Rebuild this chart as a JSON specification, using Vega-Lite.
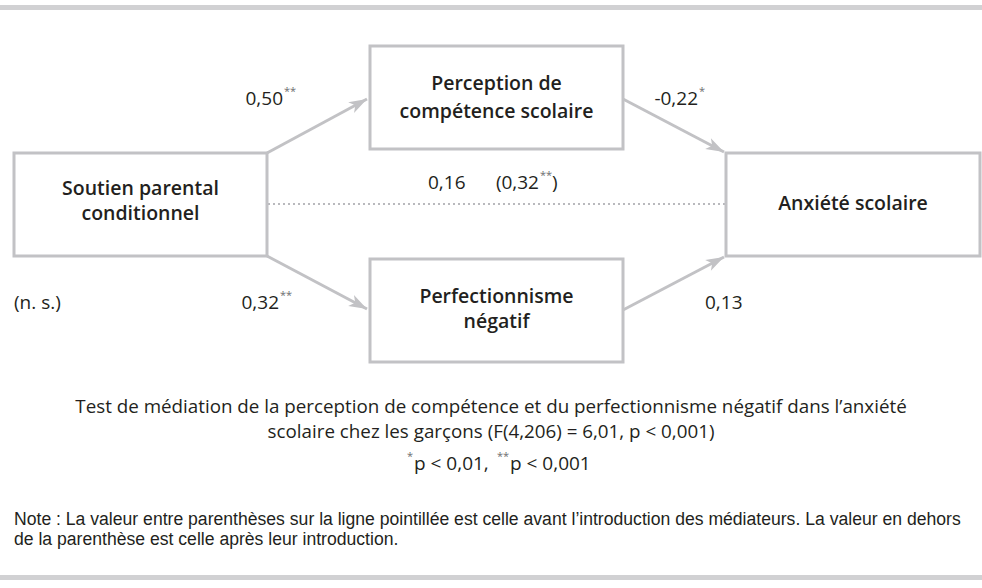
{
  "$schema": "https://vega.github.io/schema/vega-lite/v6.json",
  "width": 982,
  "height": 588,
  "autosize": {"type": "none"},
  "padding": 0,
  "background": "white",
  "config": {"view": {"stroke": null}},
  "datasets": {
    "bands": [
      {"x": 0, "x2": 982, "y": 5, "y2": 10},
      {"x": 0, "x2": 982, "y": 575, "y2": 580}
    ],
    "boxes": [
      {"node": "Soutien parental conditionnel", "x": 14, "x2": 267, "y": 153, "y2": 256},
      {"node": "Perception de compétence scolaire", "x": 370, "x2": 623, "y": 46, "y2": 149},
      {"node": "Anxiété scolaire", "x": 726, "x2": 980, "y": 153, "y2": 256},
      {"node": "Perfectionnisme négatif", "x": 370, "x2": 623, "y": 259, "y2": 362}
    ],
    "paths": [
      {"path": "a", "style": "solid", "x": 267, "y": 153, "x2": 367, "y2": 99, "heading": 61.6},
      {"path": "b", "style": "solid", "x": 623, "y": 99, "x2": 724, "y2": 152, "heading": 117.7},
      {"path": "a2", "style": "solid", "x": 267, "y": 256, "x2": 367, "y2": 309, "heading": 117.9},
      {"path": "b2", "style": "solid", "x": 623, "y": 310, "x2": 724, "y2": 257, "heading": 62.3},
      {"path": "c", "style": "dotted", "x": 268, "y": 204, "x2": 725, "y2": 204, "heading": 90}
    ],
    "texts": [
      {"role": "node", "x": 140.5, "y": 189, "text": "Soutien parental"},
      {"role": "node", "x": 140.5, "y": 214, "text": "conditionnel"},
      {"role": "node", "x": 496.5, "y": 84, "text": "Perception de"},
      {"role": "node", "x": 496.5, "y": 112, "text": "compétence scolaire"},
      {"role": "node", "x": 853, "y": 204, "text": "Anxiété scolaire"},
      {"role": "node", "x": 496.5, "y": 297, "text": "Perfectionnisme"},
      {"role": "node", "x": 496.5, "y": 322, "text": "négatif"},
      {"role": "coefR", "x": 283, "y": 99, "text": "0,50"},
      {"role": "sup", "x": 284, "y": 92, "text": "**"},
      {"role": "coefR", "x": 698, "y": 99, "text": "-0,22"},
      {"role": "sup", "x": 699, "y": 92, "text": "*"},
      {"role": "coef", "x": 428, "y": 183, "text": "0,16"},
      {"role": "coefR", "x": 539, "y": 183, "text": "(0,32"},
      {"role": "sup", "x": 540, "y": 176, "text": "**"},
      {"role": "coef", "x": 552, "y": 183, "text": ")"},
      {"role": "coef", "x": 14, "y": 303, "text": "(n. s.)"},
      {"role": "coefR", "x": 279, "y": 303, "text": "0,32"},
      {"role": "sup", "x": 280, "y": 296, "text": "**"},
      {"role": "coef", "x": 705, "y": 303, "text": "0,13"},
      {"role": "caption", "x": 491, "y": 407, "text": "Test de médiation de la perception de compétence et du perfectionnisme négatif dans l’anxiété"},
      {"role": "caption", "x": 491, "y": 432, "text": "scolaire chez les garçons (F(4,206) = 6,01, p < 0,001)"},
      {"role": "legend", "x": 414, "y": 464, "text": "p < 0,01,"},
      {"role": "supR", "x": 413, "y": 457, "text": "*"},
      {"role": "legend", "x": 510, "y": 464, "text": "p < 0,001"},
      {"role": "supR", "x": 509, "y": 457, "text": "**"},
      {"role": "note", "x": 14, "y": 520, "text": "Note : La valeur entre parenthèses sur la ligne pointillée est celle avant l’introduction des médiateurs. La valeur en dehors"},
      {"role": "note", "x": 14, "y": 540, "text": "de la parenthèse est celle après leur introduction."}
    ]
  },
  "layer": [
    {
      "data": {"name": "bands"},
      "mark": {"type": "rect", "fill": "#d1d1d3", "strokeWidth": 0},
      "encoding": {
        "x": {"field": "x", "type": "quantitative", "scale": {"domain": [0, 982], "nice": false, "zero": false}, "axis": null},
        "x2": {"field": "x2"},
        "y": {"field": "y", "type": "quantitative", "scale": {"domain": [0, 588], "reverse": true, "nice": false, "zero": false}, "axis": null},
        "y2": {"field": "y2"}
      }
    },
    {
      "data": {"name": "paths"},
      "transform": [{"filter": "datum.style === 'solid'"}],
      "mark": {"type": "rule", "stroke": "#c2c2c5", "strokeWidth": 3, "strokeCap": "butt"},
      "encoding": {
        "x": {"field": "x", "type": "quantitative", "scale": {"domain": [0, 982], "nice": false, "zero": false}, "axis": null},
        "x2": {"field": "x2"},
        "y": {"field": "y", "type": "quantitative", "scale": {"domain": [0, 588], "reverse": true, "nice": false, "zero": false}, "axis": null},
        "y2": {"field": "y2"}
      }
    },
    {
      "data": {"name": "paths"},
      "transform": [{"filter": "datum.style === 'dotted'"}],
      "mark": {"type": "rule", "stroke": "#b9b9bd", "strokeWidth": 2, "strokeDash": [2, 3]},
      "encoding": {
        "x": {"field": "x", "type": "quantitative", "scale": {"domain": [0, 982], "nice": false, "zero": false}, "axis": null},
        "x2": {"field": "x2"},
        "y": {"field": "y", "type": "quantitative", "scale": {"domain": [0, 588], "reverse": true, "nice": false, "zero": false}, "axis": null},
        "y2": {"field": "y2"}
      }
    },
    {
      "data": {"name": "paths"},
      "transform": [{"filter": "datum.style === 'solid'"}],
      "mark": {"type": "point", "filled": true, "opacity": 1, "fill": "#c2c2c5", "strokeWidth": 0, "size": 361, "shape": "M0,0L0.65,1.9L0,1.4L-0.65,1.9Z"},
      "encoding": {
        "x": {"field": "x2", "type": "quantitative", "scale": {"domain": [0, 982], "nice": false, "zero": false}, "axis": null},
        "y": {"field": "y2", "type": "quantitative", "scale": {"domain": [0, 588], "reverse": true, "nice": false, "zero": false}, "axis": null},
        "angle": {"field": "heading", "type": "quantitative", "scale": null}
      }
    },
    {
      "data": {"name": "boxes"},
      "mark": {"type": "rect", "fill": "white", "stroke": "#c2c2c5", "strokeWidth": 3},
      "encoding": {
        "x": {"field": "x", "type": "quantitative", "scale": {"domain": [0, 982], "nice": false, "zero": false}, "axis": null},
        "x2": {"field": "x2"},
        "y": {"field": "y", "type": "quantitative", "scale": {"domain": [0, 588], "reverse": true, "nice": false, "zero": false}, "axis": null},
        "y2": {"field": "y2"}
      }
    },
    {
      "data": {"name": "texts"},
      "transform": [{"filter": "datum.role === 'node'"}],
      "mark": {"type": "text", "font": "Open Sans", "fontSize": 19.5, "fontWeight": 600, "fill": "#231f20", "align": "center", "baseline": "middle"},
      "encoding": {
        "x": {"field": "x", "type": "quantitative", "scale": {"domain": [0, 982], "nice": false, "zero": false}, "axis": null},
        "y": {"field": "y", "type": "quantitative", "scale": {"domain": [0, 588], "reverse": true, "nice": false, "zero": false}, "axis": null},
        "text": {"field": "text", "type": "nominal"}
      }
    },
    {
      "data": {"name": "texts"},
      "transform": [{"filter": "datum.role === 'coef' || datum.role === 'legend'"}],
      "mark": {"type": "text", "font": "Open Sans", "fontSize": 19, "fill": "#231f20", "align": "left", "baseline": "middle"},
      "encoding": {
        "x": {"field": "x", "type": "quantitative", "scale": {"domain": [0, 982], "nice": false, "zero": false}, "axis": null},
        "y": {"field": "y", "type": "quantitative", "scale": {"domain": [0, 588], "reverse": true, "nice": false, "zero": false}, "axis": null},
        "text": {"field": "text", "type": "nominal"}
      }
    },
    {
      "data": {"name": "texts"},
      "transform": [{"filter": "datum.role === 'coefR'"}],
      "mark": {"type": "text", "font": "Open Sans", "fontSize": 19, "fill": "#231f20", "align": "right", "baseline": "middle"},
      "encoding": {
        "x": {"field": "x", "type": "quantitative", "scale": {"domain": [0, 982], "nice": false, "zero": false}, "axis": null},
        "y": {"field": "y", "type": "quantitative", "scale": {"domain": [0, 588], "reverse": true, "nice": false, "zero": false}, "axis": null},
        "text": {"field": "text", "type": "nominal"}
      }
    },
    {
      "data": {"name": "texts"},
      "transform": [{"filter": "datum.role === 'sup'"}],
      "mark": {"type": "text", "font": "Open Sans", "fontSize": 11, "fill": "#6d6d70", "align": "left", "baseline": "middle"},
      "encoding": {
        "x": {"field": "x", "type": "quantitative", "scale": {"domain": [0, 982], "nice": false, "zero": false}, "axis": null},
        "y": {"field": "y", "type": "quantitative", "scale": {"domain": [0, 588], "reverse": true, "nice": false, "zero": false}, "axis": null},
        "text": {"field": "text", "type": "nominal"}
      }
    },
    {
      "data": {"name": "texts"},
      "transform": [{"filter": "datum.role === 'supR'"}],
      "mark": {"type": "text", "font": "Open Sans", "fontSize": 11, "fill": "#6d6d70", "align": "right", "baseline": "middle"},
      "encoding": {
        "x": {"field": "x", "type": "quantitative", "scale": {"domain": [0, 982], "nice": false, "zero": false}, "axis": null},
        "y": {"field": "y", "type": "quantitative", "scale": {"domain": [0, 588], "reverse": true, "nice": false, "zero": false}, "axis": null},
        "text": {"field": "text", "type": "nominal"}
      }
    },
    {
      "data": {"name": "texts"},
      "transform": [{"filter": "datum.role === 'caption'"}],
      "mark": {"type": "text", "font": "Open Sans", "fontSize": 18.8, "fill": "#231f20", "align": "center", "baseline": "middle"},
      "encoding": {
        "x": {"field": "x", "type": "quantitative", "scale": {"domain": [0, 982], "nice": false, "zero": false}, "axis": null},
        "y": {"field": "y", "type": "quantitative", "scale": {"domain": [0, 588], "reverse": true, "nice": false, "zero": false}, "axis": null},
        "text": {"field": "text", "type": "nominal"}
      }
    },
    {
      "data": {"name": "texts"},
      "transform": [{"filter": "datum.role === 'note'"}],
      "mark": {"type": "text", "font": "'Liberation Sans Narrow', 'Liberation Sans'", "fontSize": 17.6, "fill": "#231f20", "align": "left", "baseline": "middle"},
      "encoding": {
        "x": {"field": "x", "type": "quantitative", "scale": {"domain": [0, 982], "nice": false, "zero": false}, "axis": null},
        "y": {"field": "y", "type": "quantitative", "scale": {"domain": [0, 588], "reverse": true, "nice": false, "zero": false}, "axis": null},
        "text": {"field": "text", "type": "nominal"}
      }
    }
  ]
}
